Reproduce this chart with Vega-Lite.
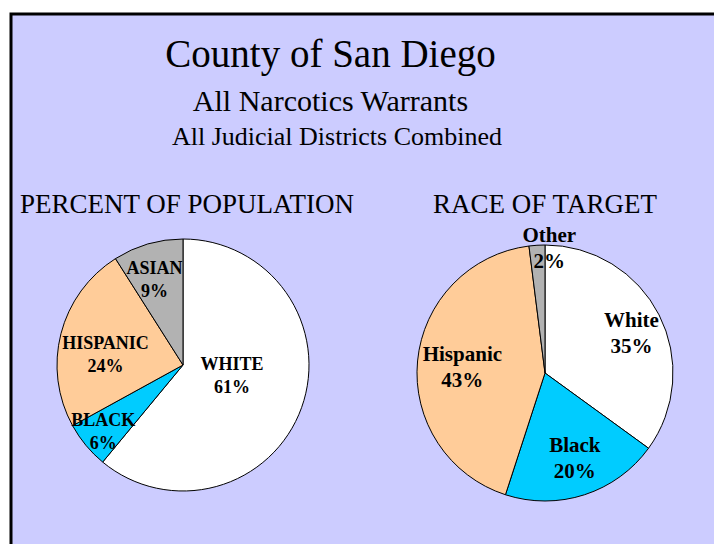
{
  "$schema": "https://vega.github.io/schema/vega-lite/v6.json",
  "width": 714,
  "height": 544,
  "autosize": {"type": "fit", "contains": "padding"},
  "padding": {"left": 11, "top": 14, "right": -4, "bottom": -4},
  "background": "white",
  "config": {
    "view": {"fill": "#CCCCFF", "stroke": "black", "strokeWidth": 3},
    "text": {"font": "Liberation Serif", "fontWeight": "bold", "color": "black", "lineBreak": "\n", "baseline": "middle"}
  },
  "title": {
    "text": "County of San Diego",
    "subtitle": "All Narcotics Warrants",
    "orient": "top",
    "anchor": "middle",
    "frame": "group",
    "offset": -103,
    "dx": -34,
    "font": "Liberation Serif",
    "fontSize": 39,
    "fontWeight": "normal",
    "color": "black",
    "subtitleFont": "Liberation Serif",
    "subtitleFontSize": 30,
    "subtitleColor": "black",
    "subtitlePadding": 12
  },
  "datasets": {
    "pop": [
      {"chart": "pop", "idx": 1, "group": "White", "pct": 61, "label": "WHITE\n61%"},
      {"chart": "pop", "idx": 2, "group": "Black", "pct": 6, "label": "BLACK\n6%"},
      {"chart": "pop", "idx": 3, "group": "Hispanic", "pct": 24, "label": "HISPANIC\n24%"},
      {"chart": "pop", "idx": 4, "group": "Other", "pct": 9, "label": "ASIAN\n9%"}
    ],
    "target": [
      {"chart": "target", "idx": 1, "group": "White", "pct": 35, "label": "White\n35%"},
      {"chart": "target", "idx": 2, "group": "Black", "pct": 20, "label": "Black\n20%"},
      {"chart": "target", "idx": 3, "group": "Hispanic", "pct": 43, "label": "Hispanic\n43%"},
      {"chart": "target", "idx": 4, "group": "Other", "pct": 2, "label": "Other\n2%"}
    ],
    "headings": [
      {"chart": "pop", "heading": "PERCENT OF POPULATION"},
      {"chart": "title", "heading": "All Judicial Districts Combined"},
      {"chart": "target", "heading": "RACE OF TARGET"}
    ]
  },
  "encoding": {
    "x": {"field": "chart", "type": "nominal", "scale": {"type": "point", "domain": ["pop", "title", "target"], "range": [172, 534], "padding": 0}, "axis": null},
    "y": {"field": "chart", "type": "nominal", "scale": {"type": "point", "domain": ["pop", "title", "target"], "range": [351, 359], "padding": 0}, "axis": null}
  },
  "layer": [
    {
      "data": {"name": "pop"},
      "mark": {"type": "arc", "outerRadius": 126, "stroke": "black", "strokeWidth": 1},
      "encoding": {
        "theta": {"field": "pct", "type": "quantitative", "stack": true, "scale": {"domain": [0, 100]}},
        "order": {"field": "idx", "type": "quantitative"},
        "color": {"field": "group", "type": "nominal", "scale": {"domain": ["White", "Black", "Hispanic", "Other"], "range": ["#FFFFFF", "#00CCFF", "#FFCC99", "#B2B2B2"]}, "legend": null}
      }
    },
    {
      "data": {"name": "target"},
      "mark": {"type": "arc", "outerRadius": 128, "stroke": "black", "strokeWidth": 1},
      "encoding": {
        "theta": {"field": "pct", "type": "quantitative", "stack": true, "scale": {"domain": [0, 100]}},
        "order": {"field": "idx", "type": "quantitative"},
        "color": {"field": "group", "type": "nominal", "legend": null}
      }
    },
    {
      "data": {"name": "pop"},
      "mark": {"type": "text", "radius": 49, "fontSize": 18, "lineHeight": 23, "dy": -16.5, "dx": 3},
      "encoding": {
        "theta": {"field": "pct", "type": "quantitative", "stack": true},
        "order": {"field": "idx", "type": "quantitative"},
        "text": {"condition": {"test": "datum.idx === 1", "field": "label"}, "value": ""}
      }
    },
    {
      "data": {"name": "pop"},
      "mark": {"type": "text", "radius": 106, "fontSize": 18, "lineHeight": 23, "dy": -11.5, "dx": 2},
      "encoding": {
        "theta": {"field": "pct", "type": "quantitative", "stack": true},
        "order": {"field": "idx", "type": "quantitative"},
        "text": {"condition": {"test": "datum.idx === 2", "field": "label"}, "value": ""}
      }
    },
    {
      "data": {"name": "pop"},
      "mark": {"type": "text", "radius": 80, "fontSize": 18, "lineHeight": 23, "dy": -1.5},
      "encoding": {
        "theta": {"field": "pct", "type": "quantitative", "stack": true},
        "order": {"field": "idx", "type": "quantitative"},
        "text": {"condition": {"test": "datum.idx === 3", "field": "label"}, "value": ""}
      }
    },
    {
      "data": {"name": "pop"},
      "mark": {"type": "text", "radius": 88, "fontSize": 18, "lineHeight": 23, "dx": -4, "dy": -11.5},
      "encoding": {
        "theta": {"field": "pct", "type": "quantitative", "stack": true},
        "order": {"field": "idx", "type": "quantitative"},
        "text": {"condition": {"test": "datum.idx === 4", "field": "label"}, "value": ""}
      }
    },
    {
      "data": {"name": "target"},
      "mark": {"type": "text", "radius": 97, "fontSize": 21, "lineHeight": 26, "dy": -8},
      "encoding": {
        "theta": {"field": "pct", "type": "quantitative", "stack": true},
        "order": {"field": "idx", "type": "quantitative"},
        "text": {"condition": {"test": "datum.idx === 1", "field": "label"}, "value": ""}
      }
    },
    {
      "data": {"name": "target"},
      "mark": {"type": "text", "radius": 90, "fontSize": 21, "lineHeight": 26, "dy": -13, "dx": 2},
      "encoding": {
        "theta": {"field": "pct", "type": "quantitative", "stack": true},
        "order": {"field": "idx", "type": "quantitative"},
        "text": {"condition": {"test": "datum.idx === 2", "field": "label"}, "value": ""}
      }
    },
    {
      "data": {"name": "target"},
      "mark": {"type": "text", "radius": 83, "fontSize": 21, "lineHeight": 26, "dy": -10},
      "encoding": {
        "theta": {"field": "pct", "type": "quantitative", "stack": true},
        "order": {"field": "idx", "type": "quantitative"},
        "text": {"condition": {"test": "datum.idx === 3", "field": "label"}, "value": ""}
      }
    },
    {
      "data": {"name": "target"},
      "mark": {"type": "text", "radius": 124, "fontSize": 21, "lineHeight": 26, "dx": 12, "dy": -13},
      "encoding": {
        "theta": {"field": "pct", "type": "quantitative", "stack": true},
        "order": {"field": "idx", "type": "quantitative"},
        "text": {"condition": {"test": "datum.idx === 4", "field": "label"}, "value": ""}
      }
    },
    {
      "data": {"name": "headings"},
      "transform": [{"filter": "datum.chart === 'pop'"}],
      "mark": {"type": "text", "fontSize": 27, "fontWeight": "normal", "baseline": "alphabetic", "dy": -152, "dx": 4},
      "encoding": {"text": {"field": "heading"}}
    },
    {
      "data": {"name": "headings"},
      "transform": [{"filter": "datum.chart === 'target'"}],
      "mark": {"type": "text", "fontSize": 27, "fontWeight": "normal", "baseline": "alphabetic", "dy": -160},
      "encoding": {"text": {"field": "heading"}}
    },
    {
      "data": {"name": "headings"},
      "transform": [{"filter": "datum.chart === 'title'"}],
      "mark": {"type": "text", "fontSize": 26, "fontWeight": "normal", "baseline": "alphabetic", "dy": -224, "dx": -27},
      "encoding": {"text": {"field": "heading"}}
    }
  ]
}
